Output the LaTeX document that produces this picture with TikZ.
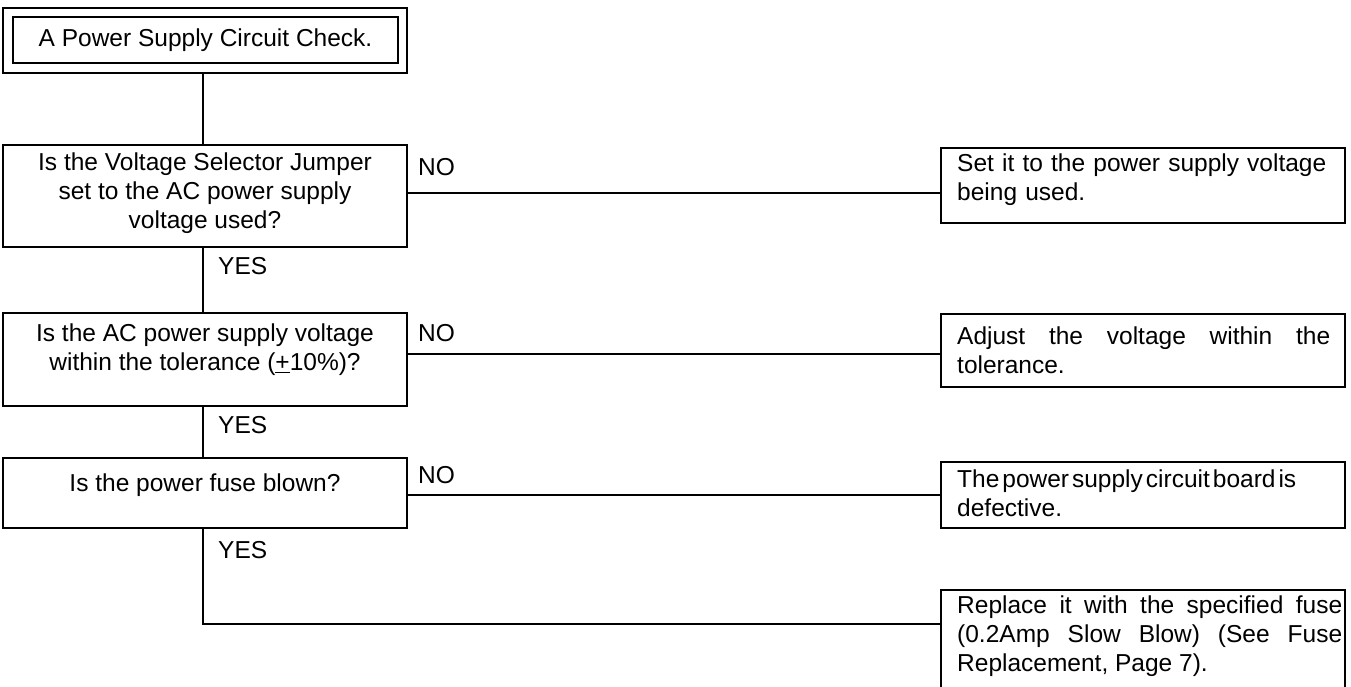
\documentclass[tikz,border=0pt]{standalone}
\usepackage{fontspec}
\setmainfont{Liberation Sans}
\newcommand{\flowfont}{\fontsize{24.5}{29}\selectfont\hyphenpenalty=10000\exhyphenpenalty=10000}
\begin{document}
\begin{tikzpicture}[x=1pt,y=-1pt,
  qbox/.style={draw, line width=2.2pt, minimum width=404pt, inner sep=0pt, align=center, font=\flowfont},
  qtext/.style={inner sep=0pt, align=center, font=\flowfont},
  abox/.style={draw, line width=2.2pt, minimum width=404pt, inner sep=0pt},
  atext/.style={inner sep=0pt, text width=385pt, font=\flowfont},
  tbox/.style={draw, line width=1.2pt, inner sep=0pt},
  lbl/.style={inner sep=0pt, font=\flowfont, anchor=west},
  conn/.style={line width=2.2pt}]
\useasboundingbox (0,0) rectangle (1351,687);
% title
\node[tbox, minimum width=404pt, minimum height=65pt] (tout) at (205,40.5) {};
\node[tbox, minimum width=385pt, minimum height=46pt, font=\flowfont] (title) at (205.5,40) {A Power Supply Circuit Check.};
% questions
\node[qbox, minimum height=102pt] (d1) at (205,196) {};
\node[qtext] (d1t) at (205,193) {Is the Voltage Selector Jumper\\set to the AC power supply\\voltage used?};
\node[qbox, minimum height=93pt] (d2) at (205,359.5) {};
\node[qtext] (d2t) at (205,350) {Is the AC power supply voltage\\within the tolerance (\underline{+}10\%)?};
\node[qbox, minimum height=70pt] (d3) at (205,493) {};
\node[qtext] (d3t) at (205,485) {Is the power fuse blown?};
% answers
\node[abox, minimum height=75pt] (r1) at (1143,185.5) {};
\node[atext, align=left, anchor=west] (r1t) at (957,180) {Set it to the power supply voltage being used.};
\node[abox, minimum height=73pt] (r2) at (1143,350.5) {};
\node[atext, text width=373pt, align=justify, anchor=west] (r2t) at (957,350.5) {Adjust the voltage within the tolerance.};
\node[abox, minimum height=66pt] (r3) at (1143,495) {};
\node[atext, align=left, anchor=west] (r3t) at (957,493) {\spaceskip=3pt The power supply circuit board is defective.};
\node[abox, minimum height=130pt] (r4) at (1143,655) {};
\node[atext, align=justify, anchor=west] (r4t) at (957,636) {Replace it with the specified fuse (0.2Amp Slow Blow) (See Fuse Replacement, Page 7).};
% helper coordinates
\coordinate (spine) at (203,0);
\coordinate (y1) at (0,193);
\coordinate (y2) at (0,354);
\coordinate (y3) at (0,495);
\coordinate (y4) at (0,624);
% connectors
\draw[conn] (tout.south -| spine) -- (d1.north -| spine);
\draw[conn] (d1.south -| spine) -- (d2.north -| spine);
\draw[conn] (d2.south -| spine) -- (d3.north -| spine);
\draw[conn] (d3.south -| spine) |- (r4.west |- y4);
\draw[conn] (d1.east |- y1) -- (r1.west |- y1);
\draw[conn] (d2.east |- y2) -- (r2.west |- y2);
\draw[conn] (d3.east |- y3) -- (r3.west |- y3);
% labels
\node[lbl] (no1) at (418,167) {NO};
\node[lbl] (no2) at (418,333) {NO};
\node[lbl] (no3) at (418,475) {NO};
\node[lbl] (yes1) at (218,266) {YES};
\node[lbl] (yes2) at (218,425) {YES};
\node[lbl] (yes3) at (218,550) {YES};
\end{tikzpicture}
\end{document}
